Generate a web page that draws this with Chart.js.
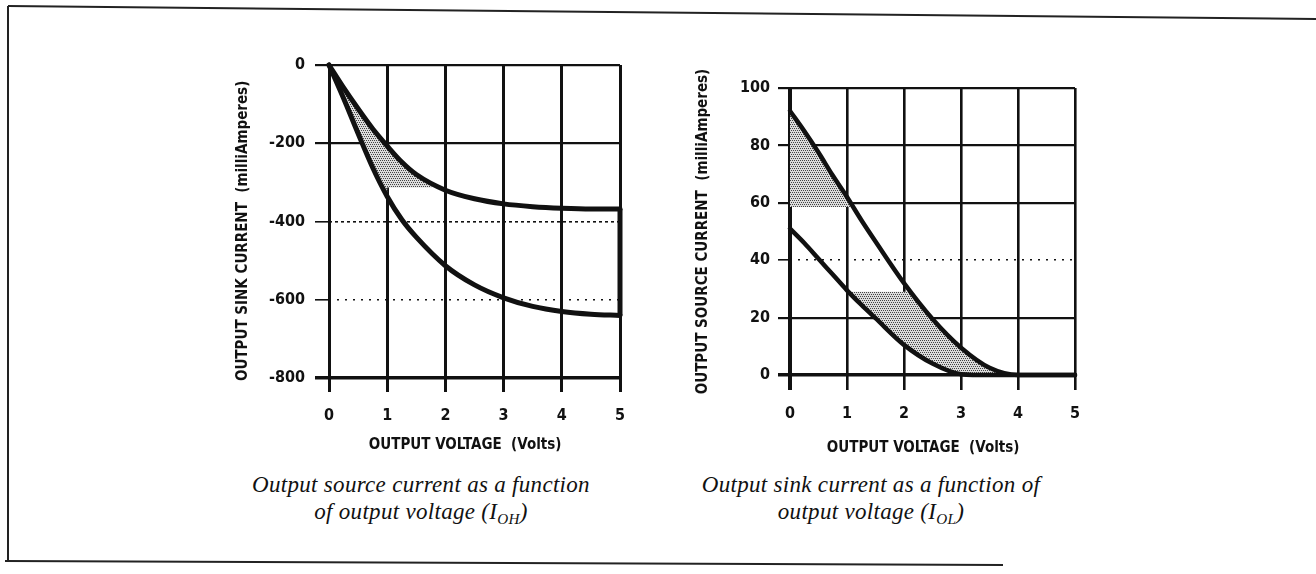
<!DOCTYPE html>
<html><head><meta charset="utf-8">
<script src="https://cdn.jsdelivr.net/npm/chart.js@4.4.1/dist/chart.umd.min.js"></script>
<style>
html,body{margin:0;padding:0;background:#fff;}
#page{position:relative;width:1316px;height:574px;overflow:hidden;background:#fff;}
canvas{position:absolute;}
.cap{position:absolute;width:520px;text-align:center;font:italic 23px 'Liberation Serif','DejaVu Serif',serif;letter-spacing:0.3px;line-height:27px;color:#111;}
.cap sub{font-size:0.66em;vertical-align:-0.35em;line-height:0;}
</style></head><body>
<div id="page">
<svg width="1316" height="574" style="position:absolute;left:0;top:0">
  <line x1="8" y1="6" x2="1316" y2="19" stroke="#222" stroke-width="2"/>
  <line x1="8" y1="6" x2="8" y2="561" stroke="#222" stroke-width="2"/>
  <line x1="5" y1="561" x2="1003" y2="565" stroke="#222" stroke-width="2"/>
</svg>
<canvas id="c1" width="410" height="420" style="left:230px;top:40px"></canvas>
<canvas id="c2" width="410" height="420" style="left:690px;top:40px"></canvas>
<div class="cap" style="left:161px;top:471px">Output source current as a function<br>of output voltage (I<sub>OH</sub>)</div>
<div class="cap" style="left:611px;top:471px">Output sink current as a function of<br>output voltage (I<sub>OL</sub>)</div>
</div>
<script>
// ---- data ----
const voltTickLabels = ['0','1','2','3','4','5'];
const sinkTickLabels = ['-800','-600','-400','-200','0'];
const sourceTickLabels = ['0','20','40','60','80','100'];

// Left chart: output sink current (mA) vs output voltage (V)
const sinkVolts = [0,0.25,0.5,0.75,1,1.25,1.5,2,2.5,3,3.5,4,4.5,5];
const sinkUpper = [0,-58,-112,-163,-207,-248,-280,-320,-342,-355,-362,-366,-368,-368];
const sinkLower = [0,-85,-175,-262,-336,-395,-440,-513,-562,-595,-617,-630,-637,-640];
const sinkEdgeVolts = [5,5];
const sinkEdgeValues = [-368,-640];
const sinkShadeVolts = [0.15,0.25,0.5,0.75,1,1.25,1.5,1.78,1,1,0.75,0.5,0.25,0.15];
const sinkShadeValues = [-35,-58,-112,-163,-207,-248,-280,-313,-313,-336,-262,-175,-85,-50];

// Right chart: output source current (mA) vs output voltage (V)
const srcVolts = [0,0.25,0.5,0.75,1,1.25,1.5,2,2.5,3,3.5,4,4.5,5];
const srcUpper = [92,85,77.5,69.5,62,54,46.5,32,19.5,9.5,2.5,0,0,0];
const srcLower = [51,46,40.5,35,29.5,24.5,19.8,10.5,4,0.3,0,0,0,0];
const srcShadeAVolts = [0,0,0.25,0.5,0.75,1,1.06];
const srcShadeAValues = [58.5,92,85,77.5,69.5,62,58.5];
const srcShadeBVolts = [1.05,2.12,2.5,3,3.5,3.75,3,2.5,2,1.5,1.25,1.05];
const srcShadeBValues = [29,29,19.5,9.5,2.5,0,0.3,4,10.5,19.8,24.5,28.5];

// ---- helpers ----
const pts = (xs, ys) => xs.map((x, i) => ({x, y: ys[i]}));
function dots() {
  const c = document.createElement('canvas'); c.width = 4; c.height = 4;
  const g = c.getContext('2d');
  g.fillStyle = '#dcdcdc'; g.fillRect(0,0,4,4);
  g.fillStyle = '#444';
  g.fillRect(0,0,1,1); g.fillRect(2,0,1,1); g.fillRect(1,2,1,1); g.fillRect(3,2,1,1);
  return g.createPattern(c, 'repeat');
}
const INK = '#111';
const NARROW = "'Liberation Sans Narrow','Arial Narrow','DejaVu Sans Condensed',sans-serif";
const tickFont = {family: NARROW, size: 16, weight: 'bold'};
const titleFont = {family: NARROW, size: 15, weight: 'bold'};
function fixX(h) { return s => { s.height = h; s.paddingLeft = 0; s.paddingRight = 0; s.paddingTop = 0; s.paddingBottom = 0; }; }
function fixY(w) { return s => { s.width = w; s.paddingLeft = 0; s.paddingRight = 0; s.paddingTop = 0; s.paddingBottom = 0; }; }
function curve(data, w) {
  return {data, borderColor: INK, borderWidth: w, pointRadius: 0, fill: false,
          cubicInterpolationMode: 'monotone', clip: 8, borderCapStyle: 'round', borderJoinStyle: 'round'};
}
function straight(data, w) {
  return {data, borderColor: INK, borderWidth: w, pointRadius: 0, fill: false, tension: 0, clip: 8};
}
function shade(data) {
  return {data, borderWidth: 0, borderColor: 'rgba(0,0,0,0)', backgroundColor: dots(), pointRadius: 0,
          fill: 'shape', tension: 0, order: 10, clip: 8};
}
const baseOptions = {
  responsive: false, animation: false, devicePixelRatio: 1,
  plugins: {legend: {display: false}, tooltip: {enabled: false}}
};

// ---- left chart ----
new Chart(document.getElementById('c1'), {
  type: 'line',
  data: {datasets: [
    curve(pts(sinkVolts, sinkUpper), 5),
    curve(pts(sinkVolts, sinkLower), 5),
    straight(pts(sinkEdgeVolts, sinkEdgeValues), 5),
    shade(pts(sinkShadeVolts, sinkShadeValues))
  ]},
  options: {
    ...baseOptions,
    layout: {padding: {top: 25, right: 20, left: 0, bottom: 0}},
    scales: {
      x: {type: 'linear', min: 0, max: 5,
          afterFit: fixX(82),
          ticks: {stepSize: 1, color: INK, font: tickFont, padding: 14, maxRotation: 0,
                  callback: (v, i) => voltTickLabels[i]},
          grid: {color: INK, lineWidth: 3, tickLength: 14},
          border: {display: false},
          title: {display: true, text: 'OUTPUT VOLTAGE  (Volts)\u00a0\u00a0\u00a0\u00a0', color: INK, font: titleFont, padding: {top: 0, bottom: 6}}},
      y: {type: 'linear', min: -800, max: 0,
          afterFit: fixY(99),
          ticks: {stepSize: 200, color: INK, font: tickFont, padding: 10,
                  callback: (v, i) => sinkTickLabels[i]},
          grid: {color: INK, tickLength: 14,
                 lineWidth: c => { const v = c.tick ? c.tick.value : 0; return v === -800 ? 3.5 : (v === -400 || v === -600) ? 1.6 : 2.2; }},
          border: {display: false,
                   dash: c => { const v = c.tick ? c.tick.value : 0; return v === -400 ? [3, 3] : v === -600 ? [2, 6] : []; }},
          title: {display: true, text: 'OUTPUT SINK CURRENT  (milliAmperes)' + '\u00a0'.repeat(4), color: INK, font: titleFont, padding: {top: 4, bottom: 0}}}
    }
  }
});

// ---- right chart ----
new Chart(document.getElementById('c2'), {
  type: 'line',
  data: {datasets: [
    curve(pts(srcVolts, srcUpper), 4.5),
    curve(pts(srcVolts, srcLower), 4.5),
    shade(pts(srcShadeAVolts, srcShadeAValues)),
    shade(pts(srcShadeBVolts, srcShadeBValues))
  ]},
  options: {
    ...baseOptions,
    layout: {padding: {top: 48, right: 25, left: 0, bottom: 0}},
    scales: {
      x: {type: 'linear', min: 0, max: 5,
          afterFit: fixX(85),
          ticks: {stepSize: 1, color: INK, font: tickFont, padding: 14, maxRotation: 0,
                  callback: (v, i) => voltTickLabels[i]},
          grid: {color: INK, tickLength: 15,
                 lineWidth: c => (c.tick && c.tick.value === 0) ? 4 : 2.6},
          border: {display: false},
          title: {display: true, text: 'OUTPUT VOLTAGE  (Volts)\u00a0\u00a0\u00a0\u00a0', color: INK, font: titleFont, padding: {top: 0, bottom: 3}}},
      y: {type: 'linear', min: 0, max: 100,
          afterFit: fixY(100),
          ticks: {stepSize: 20, color: INK, font: tickFont, padding: 8,
                  callback: (v, i) => sourceTickLabels[i]},
          grid: {color: INK, tickLength: 12,
                 lineWidth: c => { const v = c.tick ? c.tick.value : 0; return v === 0 ? 3.5 : v === 40 ? 1.6 : 2.2; }},
          border: {display: false,
                   dash: c => (c.tick && c.tick.value === 40) ? [2, 6] : []},
          title: {display: true, text: 'OUTPUT SOURCE CURRENT  (milliAmperes)', color: INK, font: titleFont, padding: {top: 4, bottom: 0}}}
    }
  }
});
</script>
</body></html>
